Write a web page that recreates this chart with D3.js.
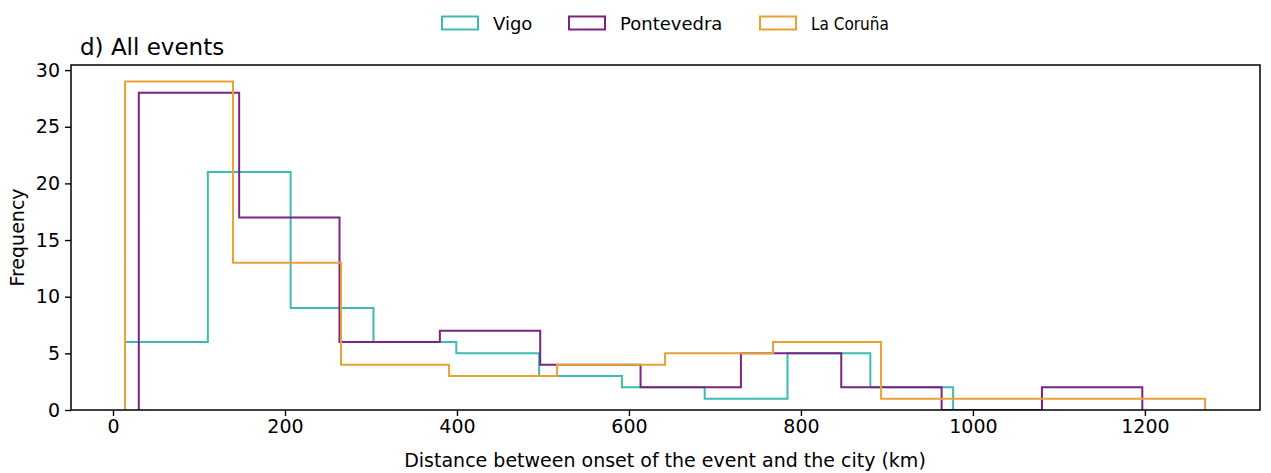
<!DOCTYPE html>
<html>
<head>
<meta charset="utf-8">
<script src="https://cdn.jsdelivr.net/npm/d3@7"></script>
<style>
  html, body { margin: 0; padding: 0; background: #fff; }
  svg { display: block; font-family: "DejaVu Sans", sans-serif; }
</style>
</head>
<body>
<svg id="chart" width="1271" height="473"></svg>
<script>
// ---- data ----
const seriesNames = ["Vigo", "Pontevedra", "La Coruña"];
const vigoEdges = [14, 110.3, 206.6, 302.9, 399.2, 495.5, 591.8, 688.1, 784.4, 880.7, 977];
const vigoCounts = [6, 21, 9, 6, 5, 3, 2, 1, 5, 2];
const pontevedraEdges = [30, 146.7, 263.4, 380.1, 496.8, 613.5, 730.2, 846.9, 963.6, 1080.3, 1197];
const pontevedraCounts = [28, 17, 6, 7, 4, 2, 5, 2, 0, 2];
const corunaEdges = [14, 139.6, 265.2, 390.8, 516.4, 642, 767.6, 893.2, 1018.8, 1144.4, 1270];
const corunaCounts = [29, 13, 4, 3, 4, 5, 6, 1, 1, 1];
const xTicks = [0, 200, 400, 600, 800, 1000, 1200];
const yTicks = [0, 5, 10, 15, 20, 25, 30];
const colors = ["#3dbab5", "#7b2480", "#e8a234"];

(function () {
const series = [
  { name: seriesNames[0], edges: vigoEdges, counts: vigoCounts, color: colors[0] },
  { name: seriesNames[1], edges: pontevedraEdges, counts: pontevedraCounts, color: colors[1] },
  { name: seriesNames[2], edges: corunaEdges, counts: corunaCounts, color: colors[2] }
];

// ---- layout ----
const mLeft = 71, mRight = 1260, mTop = 65, mBottom = 410;
const svg = d3.select("#chart");

const xMin = 14, xMax = 1271;
const pad = (xMax - xMin) * 0.05;
const x = d3.scaleLinear().domain([xMin - pad, xMax + pad]).range([mLeft, mRight]);
const y = d3.scaleLinear().domain([0, 29 * 1.05]).range([mBottom, mTop]);

svg.append("defs").append("clipPath").attr("id", "plotclip")
  .append("rect").attr("x", mLeft).attr("y", mTop)
  .attr("width", mRight - mLeft).attr("height", mBottom - mTop);

// ---- histogram steps ----
const line = d3.line().x(d => x(d[0])).y(d => y(d[1]));
const gPlot = svg.append("g").attr("clip-path", "url(#plotclip)");
series.forEach(s => {
  const pts = [[s.edges[0], 0]];
  s.counts.forEach((c, i) => {
    pts.push([s.edges[i], c]);
    pts.push([s.edges[i + 1], c]);
  });
  pts.push([s.edges[s.edges.length - 1], 0]);
  gPlot.append("path")
    .attr("d", line(pts))
    .attr("fill", "none")
    .attr("stroke", s.color)
    .attr("stroke-width", 2)
    .attr("stroke-linejoin", "miter");
});

// ---- axes ----
const fontSize = 19;
const xAxis = d3.axisBottom(x).tickValues(xTicks).tickSize(6).tickPadding(4).tickFormat(d3.format("d"));
const yAxis = d3.axisLeft(y).tickValues(yTicks).tickSize(6).tickPadding(5).tickFormat(d3.format("d"));

const gx = svg.append("g").attr("transform", `translate(0,${mBottom})`).call(xAxis);
const gy = svg.append("g").attr("transform", `translate(${mLeft},0)`).call(yAxis);
[gx, gy].forEach(g => {
  g.select(".domain").remove();
  g.selectAll(".tick line").attr("stroke", "#000").attr("stroke-width", 1.4);
  g.selectAll(".tick text").attr("fill", "#000").style("font-size", fontSize + "px")
    .style("font-family", "DejaVu Sans");
});

// frame
svg.append("rect")
  .attr("x", mLeft).attr("y", mTop)
  .attr("width", mRight - mLeft).attr("height", mBottom - mTop)
  .attr("fill", "none").attr("stroke", "#000").attr("stroke-width", 1.5);

// ---- labels ----
svg.append("text")
  .attr("x", (mLeft + mRight) / 2 - 0.5).attr("y", 467)
  .attr("text-anchor", "middle")
  .style("font-size", fontSize + "px")
  .text("Distance between onset of the event and the city (km)");

svg.append("text")
  .attr("transform", `translate(24,${(mTop + mBottom) / 2}) rotate(-90)`)
  .attr("text-anchor", "middle")
  .style("font-size", fontSize + "px")
  .text("Frequency");

svg.append("text")
  .attr("x", 80).attr("y", 55)
  .style("font-size", "23px")
  .text("d) All events");

// ---- legend ----
const legendX = [442, 569, 760];
const lg = svg.append("g");
series.forEach((s, i) => {
  lg.append("rect")
    .attr("x", legendX[i]).attr("y", 16.5)
    .attr("width", 36).attr("height", 13)
    .attr("fill", "#fff").attr("stroke", s.color).attr("stroke-width", 2);
  const t = lg.append("text")
    .attr("x", legendX[i] + 51).attr("y", 30)
    .style("font-size", "18px")
    .text(s.name);
  if (i === 2) t.style("font-stretch", "condensed").style("font-size", "17px");
});
})();
</script>
</body>
</html>
